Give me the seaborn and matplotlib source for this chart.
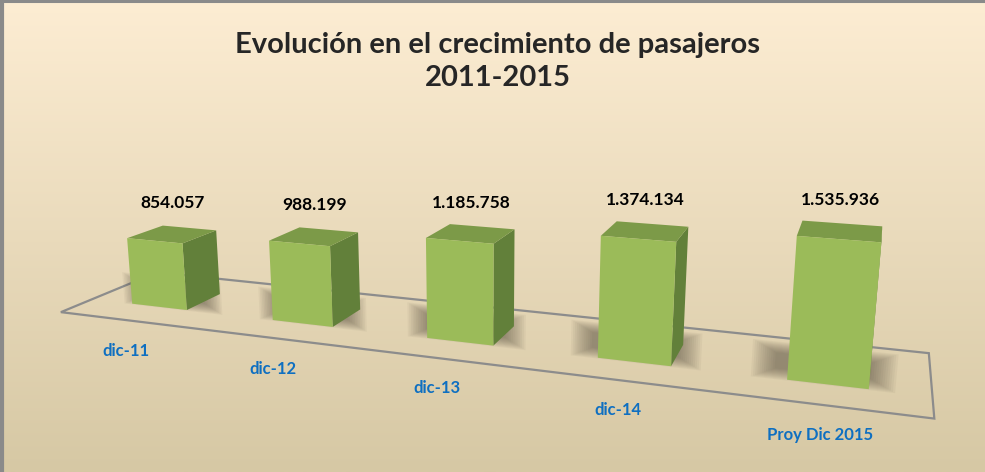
import numpy as np
import pandas as pd
import matplotlib
matplotlib.use("Agg")
import matplotlib.pyplot as plt
import seaborn as sns
from matplotlib.transforms import Transform
from matplotlib.patches import Polygon
from matplotlib.lines import Line2D

# ---------------- data ----------------
categories = ["dic-11", "dic-12", "dic-13", "dic-14", "Proy Dic 2015"]
passengers = [854057, 988199, 1185758, 1374134, 1535936]
title_lines = ["Evolución en el crecimiento de pasajeros", "2011-2015"]

# ---------------- style / layout ----------------
sns.set_theme(style="white")
plt.rcParams["font.family"] = ["Lato", "DejaVu Sans"]

FRONT, SIDE, TOP = "#9bbb59", "#62803a", "#7c9a48"
LABEL_BLUE = "#0e6fc1"
DEPTH = 0.4                 # bar depth in category units
FLOOR_X = (-0.5, 4.5)       # floor extent along category axis
FLOOR_Z = (-0.32, 0.74)     # floor extent in depth
VALUE_SCALE = 1e-6

# 3D perspective camera (world x, y*VALUE_SCALE, z) -> figure fraction
CAMERA = np.array([
    [0.131391, -0.00824151, 0.109972, 0.16171],
    [-0.0495253, 0.155716, 0.129367, 0.349916],
    [-0.0454709, -0.0167527, 0.120843, 1.0],
])


def project(X, Y, Z):
    X = np.asarray(X, float)
    hom = CAMERA @ np.vstack([X, np.asarray(Y, float) * VALUE_SCALE,
                              np.asarray(Z, float), np.ones_like(X)])
    return np.column_stack([hom[0] / hom[2], hom[1] / hom[2]])


class PlaneProj(Transform):
    """Maps 2D coordinates lying on a plane of the 3D scene to figure fraction."""
    input_dims = 2
    output_dims = 2
    is_separable = False
    has_inverse = False

    def __init__(self, to3d):
        super().__init__()
        self.to3d = to3d

    def transform_non_affine(self, values):
        v = np.atleast_2d(np.asarray(values, float))
        X, Y, Z = self.to3d(v[:, 0], v[:, 1])
        return project(X, Y, Z)


fig = plt.figure(figsize=(9.85, 4.72), dpi=100)


def tr(to3d):
    return PlaneProj(to3d) + fig.transFigure


# ---------------- background ----------------
bg = fig.add_axes([0, 0, 1, 1], zorder=-5)
top = np.array([253, 237, 211]) / 255
bot = np.array([214, 200, 164]) / 255
t = np.linspace(0, 1, 256)[:, None]
grad = (top[None, :] * (1 - t) + bot[None, :] * t)[:, None, :]
bg.imshow(grad, aspect="auto", extent=[0, 1, 0, 1], origin="upper")
bg.set_xlim(0, 1)
bg.set_ylim(0, 1)
bg.set_axis_off()
bg.add_line(Line2D([0, 1], [0.997, 0.997], color="#8a8a8a", lw=2.2, transform=bg.transAxes))
bg.add_line(Line2D([0.002, 0.002], [0, 1], color="#8a8a8a", lw=3, transform=bg.transAxes))

# ---------------- bars (seaborn) ----------------
ax = fig.add_axes([0, 0, 1, 1])
df = pd.DataFrame({"periodo": categories, "pasajeros": passengers})
sns.barplot(data=df, x="periodo", y="pasajeros", color=FRONT, width=0.4, saturation=1,
            ax=ax, errorbar=None)
ax.set_axis_off()

bars = sorted(ax.patches, key=lambda p: p.get_x())

floor_tr = tr(lambda u, v: (u, np.zeros_like(u), v))
front_tr = tr(lambda u, v: (u, v, np.zeros_like(u)))
mid_tr = tr(lambda u, v: (u, v, np.full_like(u, DEPTH / 2)))

# floor outline
ax.add_patch(Polygon([(FLOOR_X[0], FLOOR_Z[0]), (FLOOR_X[1], FLOOR_Z[0]),
                      (FLOOR_X[1], FLOOR_Z[1]), (FLOOR_X[0], FLOOR_Z[1])],
                     closed=True, fill=False, edgecolor="#8c8c8c", lw=1.6,
                     transform=floor_tr, clip_on=False, zorder=1))

for p, val, cat in zip(bars, passengers, categories):
    x0, w, h = p.get_x(), p.get_width(), p.get_height()
    xr = x0 + w
    xc = x0 + w / 2

    # soft drop shadow behind the base of the bar
    for k in range(12):
        mx = 0.011 * k
        my = 11000 * k
        ax.add_patch(Polygon([(x0 - 0.08 - mx, -25000 - my), (xr + 0.01 + mx, -25000 - my),
                              (xr + 0.01 + mx, 160000 + my), (x0 - 0.08 - mx, 160000 + my)],
                             closed=True, facecolor="#4a4235", alpha=0.05, edgecolor="none",
                             transform=mid_tr, clip_on=False, zorder=2))

    # front face = seaborn bar
    p.set_transform(front_tr)
    p.set_clip_on(False)
    p.set_edgecolor("none")
    p.set_zorder(4)

    side = Polygon([(0, 0), (h, 0), (h, DEPTH), (0, DEPTH)], closed=True,
                   transform=tr(lambda u, v, xr=xr: (np.full_like(u, xr), u, v)),
                   facecolor=SIDE, edgecolor="none", clip_on=False, zorder=3)
    topf = Polygon([(x0, 0), (xr, 0), (xr, DEPTH), (x0, DEPTH)], closed=True,
                   transform=tr(lambda u, v, h=h: (u, np.full_like(u, h), v)),
                   facecolor=TOP, edgecolor="none", clip_on=False, zorder=3)
    ax.add_patch(side)
    ax.add_patch(topf)

    # value label
    lab = f"{int(val):,}".replace(",", ".")
    ax.annotate(lab, xy=(xc, h), xycoords=mid_tr,
                xytext=(0, 31), textcoords="offset pixels", ha="center", va="center",
                fontsize=12.5, fontweight="bold", color="black", annotation_clip=False)

    # category label in front of the floor
    ax.annotate(cat, xy=(xc, FLOOR_Z[0]), xycoords=floor_tr,
                xytext=(-4, -30), textcoords="offset pixels", ha="center", va="center",
                fontsize=12, fontweight="bold", color=LABEL_BLUE, annotation_clip=False)

fig.text(0.505, 0.905, title_lines[0], ha="center", va="center", fontsize=21, fontweight="bold")
fig.text(0.505, 0.835, title_lines[1], ha="center", va="center", fontsize=21, fontweight="bold")

fig.savefig("out.png", dpi=100)
